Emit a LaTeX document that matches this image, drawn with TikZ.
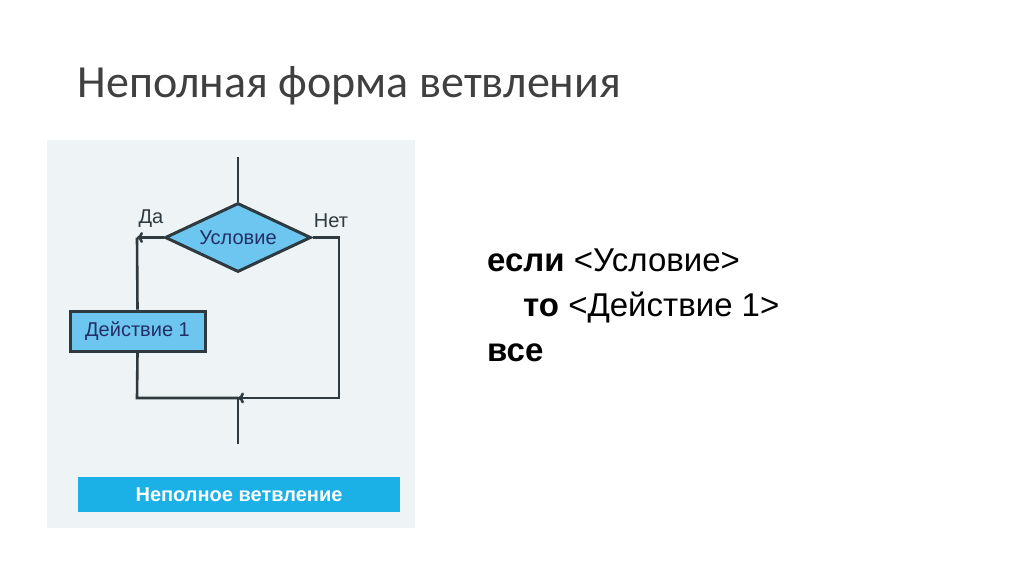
\documentclass[tikz,border=0pt]{standalone}
\usepackage{fontspec}
\setmainfont{Carlito}
\newfontfamily\diag{Liberation Sans}
\usetikzlibrary{shapes.geometric,arrows.meta}
\definecolor{panel}{HTML}{EEF3F5}
\definecolor{fillb}{HTML}{6CC6F0}
\definecolor{bar}{HTML}{1BB0E6}
\definecolor{lineg}{HTML}{2E3A40}
\definecolor{txt}{HTML}{404040}
\begin{document}
\begin{tikzpicture}[x=1pt,y=-1pt,
  ln/.style={draw=lineg,line width=2.6pt},
  arr/.style={ln,-{To[length=6pt,width=11pt]}},
  lbl/.style={font=\diag\fontsize{20}{24}\selectfont,text=lineg}]
\useasboundingbox (0,0) rectangle (1024,574);
\fill[white] (0,0) rectangle (1024,574);
\node[anchor=west,font=\fontsize{46}{54}\selectfont,text=txt] (title) at (74,86) {Неполная форма ветвления};
\fill[panel] (47,140) rectangle (415,528);
\node[diamond,draw=lineg,line width=3pt,fill=fillb,minimum width=146pt,minimum height=69pt,inner sep=0pt,aspect=2.1,
  font=\diag\fontsize{20}{24}\selectfont,text=lineg!80!blue] (cond) at (238,237.5) {Условие};
\node[draw=lineg,line width=3pt,fill=fillb,minimum width=135pt,minimum height=40pt,inner sep=0pt,
  font=\diag\fontsize{20}{24}\selectfont,text=lineg!80!blue] (act) at (137.5,331) {Действие 1};
\coordinate (top) at (238,157);
\coordinate (ya) at (137,237.5);
\coordinate (na) at (339,237.5);
\coordinate (bl) at (137,398);
\coordinate (br) at (339,398);
\coordinate (m) at (238,398);
\coordinate (end) at (238,444);
\draw[ln] (top) -- (cond.north);
\draw[arr] (cond.west) -- (ya);
\draw[ln] (ya) -- (act.north);
\draw[ln] (act.south) -- (bl) -- (m);
\draw[ln] (cond.east) -- (na) -- (br) -- (m);
\draw[arr] (br) -- (m);
\draw[ln] (m) -- (end);
\node[lbl] (da) at (151,219) {Да};
\node[lbl] (net) at (331,221) {Нет};
\node[fill=bar,minimum width=322pt,minimum height=35pt,inner sep=0pt,text=white,
  font=\diag\bfseries\fontsize{20}{24}\selectfont] (cap) at (239,494.5) {Неполное ветвление};
\begin{scope}[font=\diag\fontsize{33}{40}\selectfont,text=black]
\node[anchor=base west,inner sep=0pt] (l1) at (487,271) {\textbf{если} <Условие>};
\node[anchor=base west,inner sep=0pt] (l2) at (523,316) {\textbf{то} <Действие 1>};
\node[anchor=base west,inner sep=0pt] (l3) at (487,361) {\textbf{все}};
\end{scope}
\end{tikzpicture}
\end{document}
